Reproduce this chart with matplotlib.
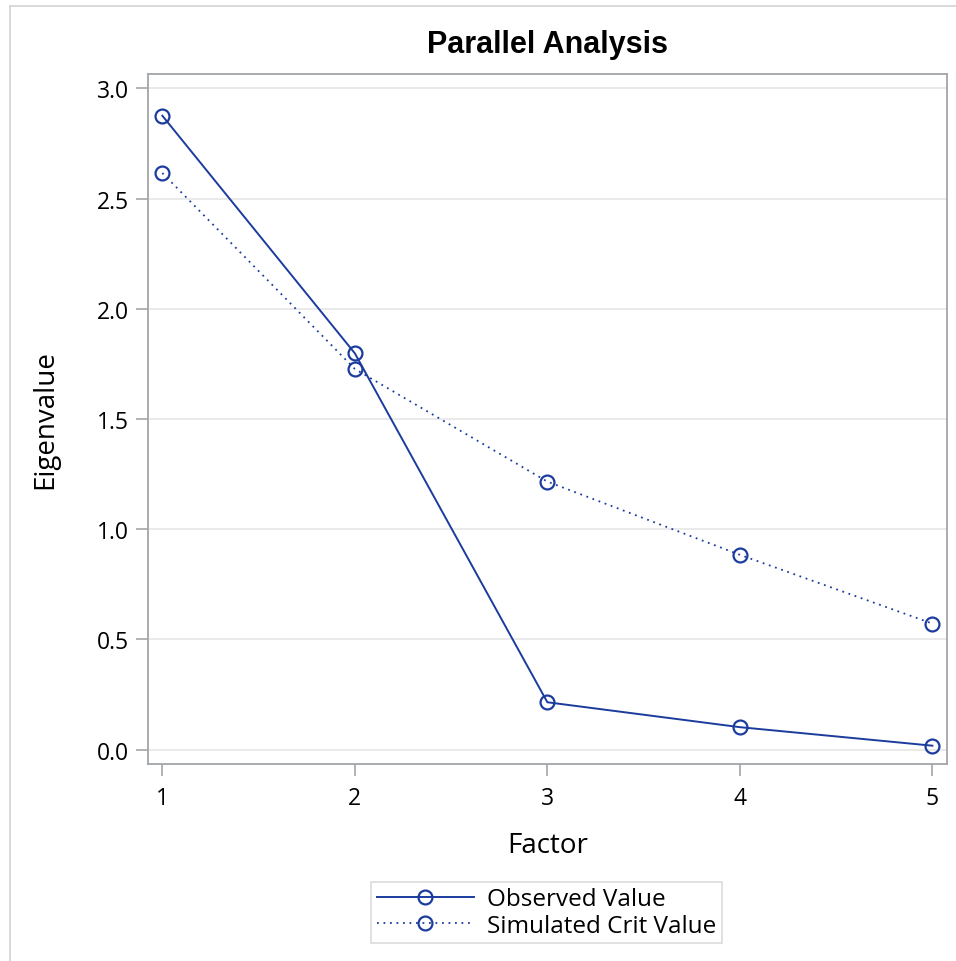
import matplotlib
matplotlib.use("Agg")
import matplotlib.pyplot as plt
from matplotlib.lines import Line2D

# values
factors = [1, 2, 3, 4, 5]
observed = [2.876, 1.798, 0.215, 0.102, 0.018]
simulated = [2.616, 1.727, 1.216, 0.884, 0.572]
y_ticks = [0.0, 0.5, 1.0, 1.5, 2.0, 2.5, 3.0]

blue = '#1B3C9E'
frame_gray = '#A3A6A9'

fig = plt.figure(figsize=(9.56, 9.62), dpi=100)
ax = fig.add_axes([0.1545, 0.2048, 0.8361, 0.7172])

ax.plot(factors, observed, color=blue, lw=1.4, marker='o', ms=10,
        mfc='none', mec=blue, mew=1.6, label='Observed Value')
ax.plot(factors, simulated, color=blue, lw=1.3, ls=(0, (1, 2.6)),
        marker='o', ms=10, mfc='none', mec=blue, mew=1.6,
        label='Simulated Crit Value')

ax.set_xlim(0.924, 5.076)
ax.set_ylim(-0.065, 3.065)
ax.set_xticks(factors)
ax.set_yticks(y_ticks)
ax.set_yticklabels([f'{v:.1f}' for v in y_ticks])

# gridlines on y ticks only
for v in y_ticks:
    ax.axhline(v, color='#E6E6E6', lw=1.2, zorder=0)

for side in ax.spines.values():
    side.set_color(frame_gray)
    side.set_linewidth(1.3)

ax.tick_params(axis='both', direction='out', length=8.5, width=1.2,
               color=frame_gray, labelsize=16.5, labelcolor='black')
ax.tick_params(axis='x', pad=7)
ax.tick_params(axis='y', pad=5)
for lab in ax.get_xticklabels() + ax.get_yticklabels():
    lab.set_fontfamily('Open Sans')

ax.set_title('Parallel Analysis', fontsize=22, fontweight='bold',
             fontfamily='Liberation Sans', pad=16)
ax.set_xlabel('Factor', fontsize=20, fontfamily='Open Sans')
ax.set_ylabel('Eigenvalue', fontsize=20, fontfamily='Open Sans')
ax.xaxis.set_label_coords(0.5, -0.118)
ax.xaxis.label.set_va('center')
ax.yaxis.set_label_coords(-0.1285, 0.5)
ax.yaxis.label.set_va('center')

leg = fig.legend(loc='center', bbox_to_anchor=(546.5 / 956, 0.0505),
                 prop={'family': 'Open Sans', 'size': 17.5},
                 frameon=True, fancybox=False, handlelength=4.0,
                 handletextpad=0.55, borderpad=0.22, labelspacing=0.1,
                 borderaxespad=0)
leg.get_frame().set_edgecolor('#D3D3D3')
leg.get_frame().set_linewidth(1.2)

# light outer border of the graph area (left and top edges visible)
fig.add_artist(Line2D([9.5 / 956, 9.5 / 956], [0, 1 - 6.5 / 962],
                      transform=fig.transFigure, color='#D3D3D3', lw=1.2))
fig.add_artist(Line2D([9.5 / 956, 1], [1 - 6.5 / 962, 1 - 6.5 / 962],
                      transform=fig.transFigure, color='#D3D3D3', lw=1.2))

fig.savefig('out.png', dpi=100)
